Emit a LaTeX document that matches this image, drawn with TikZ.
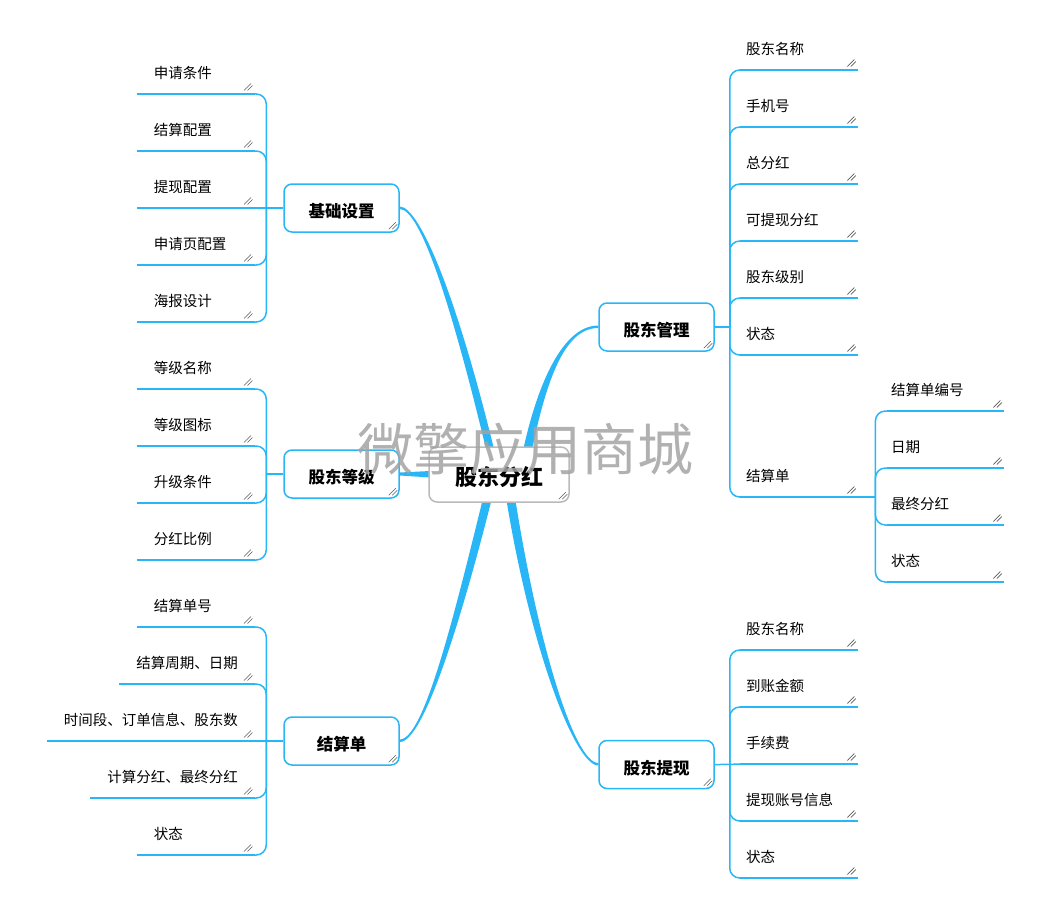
\documentclass[tikz,border=0pt]{standalone}
\usepackage{fontspec}
\setmainfont{Noto Sans CJK SC}
\usetikzlibrary{calc}

\definecolor{sky}{HTML}{29B6F6}
\definecolor{gripgray}{HTML}{5A5A5A}
\pgfdeclarelayer{bg}
\pgfsetlayers{bg,main}

% pad a label to a minimum width, text kept on the left
\newlength\padw
\newcommand\padto[2]{\settowidth\padw{#2}\ifdim\padw<#1\makebox[#1][l]{#2}\else#2\fi}

\tikzset{
  root/.style={draw=black!27, line width=1.5pt, rounded corners=8pt, fill=white,
    minimum width=140pt, minimum height=55pt, inner sep=0pt, text height=22pt, text depth=0pt,
    font=\bfseries\fontsize{22}{24}\selectfont},
  topic/.style={draw=sky, line width=1.5pt, rounded corners=8pt, fill=white,
    minimum width=115pt, minimum height=48pt, inner sep=0pt, text height=19pt, text depth=0pt,
    font=\bfseries\fontsize{16.5}{18}\selectfont},
  leaf/.style={inner ysep=0pt, text height=12pt, text depth=15pt,
    font=\fontsize{14.5}{16}\selectfont},
  leafL/.style={leaf, anchor=south east, inner xsep=17pt},
  leafR/.style={leaf, anchor=south west, inner xsep=6pt},
  limb/.style={fill=sky},
  twig/.style={draw=sky, line width=1.5pt, rounded corners=10pt},
  rule/.style={draw=sky, line width=2pt},
  grip/.style={draw=gripgray, line width=0.6pt},
}

\begin{document}
\begin{tikzpicture}[x=1pt, y=-1pt]
  \useasboundingbox (0,0) rectangle (1050,899);

  % centre and main topics
  \node[root] (root) at (499,474.5) {股东分红};
  \node[topic] (jcsz) at (341.5,208) {基础设置};
  \node[topic] (gddj) at (341.5,474) {股东等级};
  \node[topic] (jsd) at (341.5,741) {结算单};
  \node[topic] (gdgl) at (656.5,327) {股东管理};
  \node[topic] (gdtx) at (656.5,764.5) {股东提现};

  % left leaves
  \node[leafL] (sqtj) at (255,94) {\padto{84pt}{申请条件}};
  \node[leafL] (jspz) at (255,151) {\padto{84pt}{结算配置}};
  \node[leafL] (txpz) at (255,208) {\padto{84pt}{提现配置}};
  \node[leafL] (sqypz) at (255,265) {\padto{84pt}{申请页配置}};
  \node[leafL] (hbsj) at (255,322) {\padto{84pt}{海报设计}};

  \node[leafL] (djmc) at (255,389) {\padto{84pt}{等级名称}};
  \node[leafL] (djtb) at (255,446) {\padto{84pt}{等级图标}};
  \node[leafL] (sjtj) at (255,503) {\padto{84pt}{升级条件}};
  \node[leafL] (fhbl) at (255,560) {\padto{84pt}{分红比例}};

  \node[leafL] (jsdh) at (255,627) {\padto{84pt}{结算单号}};
  \node[leafL] (jszq) at (255,684) {\padto{84pt}{结算周期、日期}};
  \node[leafL] (sjd) at (255,741) {\padto{84pt}{时间段、订单信息、股东数}};
  \node[leafL] (jsfh) at (255,798) {\padto{84pt}{计算分红、最终分红}};
  \node[leafL] (zt0) at (255,855) {\padto{84pt}{状态}};

  % right leaves
  \node[leafR] (mc1) at (740,70) {\padto{106pt}{股东名称}};
  \node[leafR] (sjh) at (740,127) {\padto{106pt}{手机号}};
  \node[leafR] (zfh) at (740,184) {\padto{106pt}{总分红}};
  \node[leafR] (ktx) at (740,241) {\padto{106pt}{可提现分红}};
  \node[leafR] (jb) at (740,298) {\padto{106pt}{股东级别}};
  \node[leafR] (zt1) at (740,355) {\padto{106pt}{状态}};
  \node[leafR] (jsd2) at (740,497) {\padto{106pt}{结算单}};

  \node[leafR, inner xsep=4pt] (bh) at (887,411) {\padto{109pt}{结算单编号}};
  \node[leafR, inner xsep=4pt] (rq) at (887,468) {\padto{109pt}{日期}};
  \node[leafR, inner xsep=4pt] (zzfh) at (887,525) {\padto{109pt}{最终分红}};
  \node[leafR, inner xsep=4pt] (zt2) at (887,582) {\padto{109pt}{状态}};

  \node[leafR] (mc2) at (740,650) {\padto{106pt}{股东名称}};
  \node[leafR] (dzje) at (740,707) {\padto{106pt}{到账金额}};
  \node[leafR] (sxf) at (740,764) {\padto{106pt}{手续费}};
  \node[leafR] (zhxx) at (740,821) {\padto{106pt}{提现账号信息}};
  \node[leafR] (zt3) at (740,878) {\padto{106pt}{状态}};

  \begin{pgfonlayer}{bg}
    % thick branches into the centre
    \fill[limb] ($(jcsz.east)+(0,-1.5)$) .. controls +(20,0) and +(-40,-170) .. ($(root.center)+(0,-4.5)$)
      -- ($(root.center)+(-8,-4.5)$) .. controls +(-40,-170) and +(20,0) .. ($(jcsz.east)+(0,1)$) -- cycle;
    \fill[limb] ($(gddj.east)+(0,-1.5)$) -- ($(root.west)+(2,-3.5)$) -- ($(root.west)+(2,3)$)
      -- ($(gddj.east)+(0,1.5)$) -- cycle;
    \fill[limb] ($(jsd.east)+(0,-1.5)$) .. controls +(25,0) and +(-32,130) .. ($(root.center)+(-11,3.5)$)
      -- ($(root.center)+(-2,3.5)$) .. controls +(-32,130) and +(25,0) .. ($(jsd.east)+(0,1)$) -- cycle;
    \fill[limb] ($(gdgl.west)+(0,-1.5)$) .. controls +(-34,0) and +(17,-90) .. ($(root.center)+(20,-4.5)$)
      -- ($(root.center)+(29,-4.5)$) .. controls +(17,-90) and +(-34,0) .. ($(gdgl.west)+(0,1)$) -- cycle;
    \fill[limb] ($(gdtx.west)+(0,-1.5)$) .. controls +(-24,0) and +(24,162) .. ($(root.center)+(13,3.5)$)
      -- ($(root.center)+(4,3.5)$) .. controls +(24,162) and +(-24,0) .. ($(gdtx.west)+(0,1)$) -- cycle;

    % thin connectors to the leaves
    \draw[twig] (jcsz.west) -- ++(-17,0) coordinate (jcszj) -- (txpz.south east);
    \foreach \c in {sqtj,jspz,sqypz,hbsj} \draw[twig] (jcszj) |- (\c.south east);
    \draw[twig] (gddj.west) -- ++(-17,0) coordinate (gddjj);
    \foreach \c in {djmc,djtb,sjtj,fhbl} \draw[twig] (gddjj) |- (\c.south east);
    \draw[twig] (jsd.west) -- ++(-17,0) coordinate (jsdj) -- (sjd.south east);
    \foreach \c in {jsdh,jszq,jsfh,zt0} \draw[twig] (jsdj) |- (\c.south east);
    \draw[twig] (gdgl.east) -- ++(15,0) coordinate (gdglj);
    \foreach \c in {mc1,sjh,zfh,ktx,jb,zt1,jsd2} \draw[twig] (gdglj) |- (\c.south west);
    \draw[twig] (jsd2.south east) -- ++(17,0) coordinate (jsd2j);
    \foreach \c in {bh,rq,zzfh,zt2} \draw[twig] (jsd2j) |- (\c.south west);
    \draw[twig] (gdtx.east) -- ++(15,0) coordinate (gdtxj) -- (sxf.south west);
    \foreach \c in {mc2,dzje,zhxx,zt3} \draw[twig] (gdtxj) |- (\c.south west);

    % underlines
    \foreach \c in {sqtj,jspz,txpz,sqypz,hbsj,djmc,djtb,sjtj,fhbl,jsdh,jszq,sjd,jsfh,zt0,
      mc1,sjh,zfh,ktx,jb,zt1,jsd2,bh,rq,zzfh,zt2,mc2,dzje,sxf,zhxx,zt3}
      \draw[rule] (\c.south west) -- (\c.south east);
  \end{pgfonlayer}

  % resize grips
  \foreach \n in {root,jcsz,gddj,jsd,gdgl,gdtx,sqtj,jspz,txpz,sqypz,hbsj,djmc,djtb,sjtj,fhbl,
    jsdh,jszq,sjd,jsfh,zt0,mc1,sjh,zfh,ktx,jb,zt1,jsd2,bh,rq,zzfh,zt2,mc2,dzje,sxf,zhxx,zt3} {
    \draw[grip] ($(\n.south east)+(-11,-3.5)$) -- ++(7,-7);
    \draw[grip] ($(\n.south east)+(-7.5,-3.5)$) -- ++(5,-5);
  }

  % watermark
  \node[font=\fontsize{56}{60}\selectfont, text=black!36, opacity=.85] (wm) at (525,449) {微擎应用商城};
\end{tikzpicture}
\end{document}
